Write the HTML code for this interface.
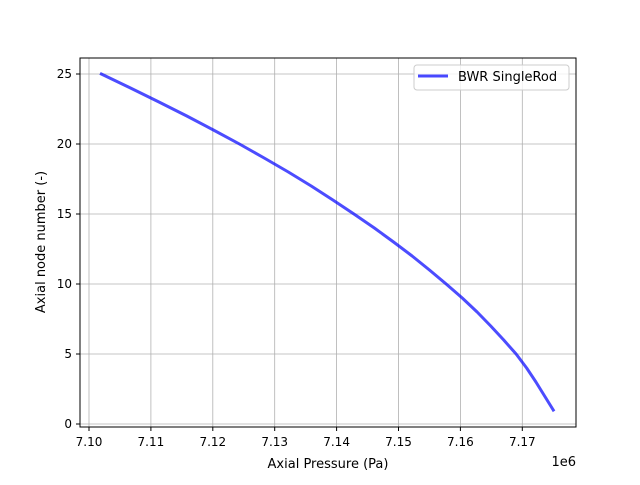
<!DOCTYPE html>
<html><head><meta charset="utf-8"><style>
body{margin:0;background:#fff}
svg text{font-family:"DejaVu Sans","Liberation Sans",sans-serif;fill:#000}
</style></head><body>
<svg id="chart" width="640" height="480">
<rect x="0" y="0" width="640" height="480" fill="#fff"/>
<g id="grid"></g><g id="ticks"></g><g id="plot"></g>
<rect x="80" y="58" width="496" height="369" fill="none" stroke="#000" stroke-width="1"/>
<text x="328" y="468" font-size="13" text-anchor="middle">Axial Pressure (Pa)</text>
<text x="45" y="242" font-size="13" text-anchor="middle" transform="rotate(-90 45 242)">Axial node number (-)</text>
<text x="576" y="466" font-size="13" text-anchor="end">1e6</text>
<g>
<rect x="414" y="65" width="155" height="25" rx="3" fill="#fff" fill-opacity="0.8" stroke="#ccc"/>
<line x1="418" y1="76" x2="448" y2="76" stroke="#4848ff" stroke-width="3"/>
<text x="458" y="81" font-size="13">BWR SingleRod</text>
</g>
</svg>
<script>
const nodes=[1,2,3,4,5,6,7,8,9,10,11,12,13,14,15,16,17,18,19,20,21,22,23,24,25];
const pressures=[7.1750,7.1736,7.1722,7.1707,7.1690,7.1670,7.1649,7.1627,7.1603,7.1577,7.1550,7.1522,7.1492,7.1461,7.1428,7.1394,7.1359,7.1322,7.1283,7.1243,7.1201,7.1158,7.1113,7.1067,7.1020];
const xTicks=[7.10,7.11,7.12,7.13,7.14,7.15,7.16,7.17];
const xTickLabels=["7.10","7.11","7.12","7.13","7.14","7.15","7.16","7.17"];
const yTicks=[0,5,10,15,20,25];
const ns="http://www.w3.org/2000/svg";
const X=v=>80+(v-7.098546)/(7.178675-7.098546)*496;
const Y=v=>424-v*14;
function mk(t,a,p){const e=document.createElementNS(ns,t);for(const k in a)e.setAttribute(k,a[k]);document.getElementById(p).appendChild(e);return e;}
xTicks.forEach((v,i)=>{const x=X(v);
const g=mk('line',{x1:x,x2:x,y1:58,y2:427,stroke:'#b0b0b0','stroke-width':0.8},'grid');


mk('line',{x1:x,x2:x,y1:427,y2:431,stroke:'#000'},'ticks');
const t=mk('text',{x:x,y:446,'font-size':12,'text-anchor':'middle'},'ticks');t.textContent=xTickLabels[i];

});
yTicks.forEach(v=>{const y=Y(v);
const g=mk('line',{x1:80,x2:576,y1:y,y2:y,stroke:'#b0b0b0','stroke-width':0.8},'grid');


mk('line',{x1:76,x2:80,y1:y,y2:y,stroke:'#000'},'ticks');
const t=mk('text',{x:72,y:y+4,'font-size':12,'text-anchor':'end'},'ticks');t.textContent=v;

});
const p=mk('polyline',{points:nodes.map((n,i)=>X(pressures[i])+','+Y(n)).join(' '),fill:'none',stroke:'#0000ff','stroke-opacity':0.7,'stroke-width':3,'stroke-linejoin':'round','stroke-linecap':'square'},'plot');


</script>
</body></html>
